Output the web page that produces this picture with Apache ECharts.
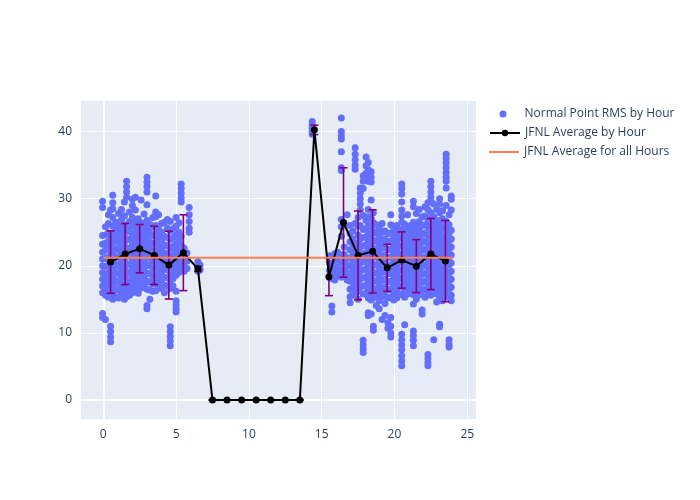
<!DOCTYPE html>
<html>
<head>
<meta charset="utf-8">
<script src="https://cdn.jsdelivr.net/npm/echarts@6/dist/echarts.min.js"></script>
<style>html,body{margin:0;padding:0;background:#fff}#c{width:700px;height:500px}</style>
</head>
<body>
<div id="c"></div>
<script>
// Normal point RMS, grouped in vertical streaks: [hour, [rms values]]
const normalPointStreaks = [
  [-0.05, [29.6, 28.7, 24.5, 23.2, 22.0, 21.0, 20.0, 19.0, 18.0, 17.0, 16.0, 12.9, 12.3]],
  [0.15, [25.8, 24.6, 23.4, 22.3, 21.1, 19.9, 18.6, 17.4, 16.2, 15.6, 12.0]],
  [0.35, [27.6, 26.3, 24.9, 23.6, 22.5, 21.3, 20.1, 18.9, 17.7, 16.5, 15.3]],
  [0.5, [28.3, 24.0, 22.8, 21.6, 20.4, 19.2, 18.0, 16.8, 15.6, 11.0, 10.2, 9.4, 8.7]],
  [0.65, [30.5, 29.4, 28.5, 27.2, 25.9, 24.7, 23.5, 22.2, 21.0, 19.7, 18.5, 17.3, 16.0, 15.0]],
  [0.85, [26.5, 25.2, 23.9, 22.6, 21.4, 20.2, 19.0, 17.8, 16.6, 15.4]],
  [1.05, [27.8, 26.0, 24.8, 23.6, 22.4, 21.2, 20.0, 18.8, 17.6, 16.4, 15.2]],
  [1.25, [28.4, 26.9, 25.5, 24.2, 23.0, 21.8, 20.6, 19.4, 18.2, 17.0, 15.8]],
  [1.45, [29.5, 27.4, 26.1, 24.8, 23.5, 22.2, 21.0, 19.8, 18.5, 17.3, 16.1, 15.0]],
  [1.6, [32.6, 31.8, 31.0, 30.2, 25.6, 24.0, 22.7, 21.5, 20.3, 19.1, 17.9, 16.6, 15.4]],
  [1.8, [28.0, 26.6, 25.1, 23.9, 22.6, 21.4, 20.2, 18.9, 17.7, 16.5, 15.6]],
  [2.0, [29.9, 29.0, 27.2, 25.9, 24.6, 23.3, 22.1, 20.8, 19.6, 18.3, 17.1, 16.0]],
  [2.2, [30.2, 28.3, 26.4, 25.0, 23.8, 22.6, 21.3, 20.1, 18.9, 17.6, 16.4]],
  [2.4, [27.0, 25.6, 24.3, 23.0, 21.8, 20.6, 19.4, 18.2, 17.0, 15.9]],
  [2.6, [29.8, 26.4, 25.1, 23.9, 22.7, 21.5, 20.3, 19.1, 17.9, 16.7]],
  [2.8, [27.7, 26.0, 24.6, 23.3, 22.0, 20.8, 19.6, 18.4, 17.2]],
  [3.0, [33.2, 32.5, 31.8, 31.0, 29.1, 26.8, 25.3, 24.0, 22.7, 21.4, 20.2, 18.9, 17.7, 16.5, 14.1, 13.6]],
  [3.2, [26.2, 24.9, 23.6, 22.4, 21.2, 20.0, 18.8, 17.6, 16.4, 15.0]],
  [3.4, [27.2, 25.8, 24.5, 23.2, 22.0, 20.8, 19.6, 18.4, 17.3, 16.2]],
  [3.6, [30.4, 28.0, 27.3, 26.0, 24.7, 23.4, 22.2, 21.0, 19.8, 18.6, 17.4, 16.3]],
  [3.8, [27.6, 25.4, 24.1, 22.9, 21.7, 20.5, 19.3, 18.1, 16.9]],
  [4.0, [26.3, 25.0, 23.7, 22.5, 21.3, 20.1, 18.9, 17.7, 16.6]],
  [4.2, [26.5, 24.4, 23.1, 21.9, 20.7, 19.5, 18.3, 17.1, 16.0]],
  [4.4, [26.9, 25.6, 24.2, 23.0, 21.8, 20.6, 19.4, 18.2, 17.0]],
  [4.6, [26.6, 25.2, 23.9, 22.6, 21.4, 20.2, 19.0, 17.8, 16.6, 10.9, 10.2, 9.5, 8.8, 8.1]],
  [4.8, [25.5, 24.2, 22.9, 21.7, 20.5, 19.3, 18.1, 17.0]],
  [5.0, [27.2, 25.9, 24.6, 23.3, 22.1, 20.9, 19.7, 18.6, 16.2, 14.8, 14.2, 13.6, 13.1]],
  [5.2, [26.4, 25.0, 23.7, 22.5, 21.3, 20.1, 19.0]],
  [5.35, [32.2, 31.5, 30.8, 30.1, 29.5, 24.4, 23.1, 21.9, 20.7, 19.5]],
  [5.55, [22.6, 21.4, 20.2, 19.2]],
  [5.75, [21.9, 20.7, 19.6]],
  [5.9, [28.7, 27.6, 26.6, 25.6, 25.0]],
  [6.5, [20.6, 19.8, 19.2]],
  [6.65, [20.1, 19.4]],
  [14.35, [41.5, 41.0, 40.5, 40.0, 39.6]],
  [15.55, [21.5, 20.4, 19.3, 18.2]],
  [15.7, [20.2, 19.1, 18.1, 14.0, 13.1]],
  [15.9, [21.8, 20.7, 19.6, 18.5, 17.9]],
  [16.1, [22.0, 20.9, 19.8, 18.8]],
  [16.35, [42.0, 40.0, 39.4, 38.9, 37.0, 34.6, 34.2, 26.9, 25.8, 24.4, 21.6, 20.5, 19.4, 18.3]],
  [16.55, [26.3, 22.8, 21.7, 20.6, 19.5, 18.5]],
  [16.75, [27.6, 21.1, 20.0, 19.0, 17.9]],
  [16.95, [26.0, 24.8, 23.6, 22.4, 21.2, 20.0, 18.8, 17.7, 16.5, 15.4, 14.5]],
  [17.15, [25.2, 24.0, 22.8, 21.6, 20.4, 19.2, 18.0, 16.8, 15.6]],
  [17.3, [37.6, 36.6, 35.8, 35.0, 34.4, 26.3, 23.2, 22.0, 20.8, 19.6, 18.4, 17.2, 16.0]],
  [17.5, [27.2, 25.9, 24.6, 23.4, 22.2, 21.0, 19.8, 18.6, 17.4, 16.2, 15.0]],
  [17.65, [31.6, 30.8, 30.0, 29.2, 28.3, 26.0, 24.0, 22.8, 21.6, 20.4, 19.2, 18.0, 16.8]],
  [17.85, [33.4, 32.6, 31.5, 27.5, 25.4, 24.2, 23.0, 21.8, 20.6, 19.4, 18.2, 17.0, 15.8, 8.9, 8.2, 7.6, 7.1]],
  [18.05, [36.2, 34.9, 33.8, 26.8, 25.5, 24.3, 23.1, 21.9, 20.7, 19.5, 18.3, 17.1, 15.9]],
  [18.2, [35.4, 34.3, 33.3, 32.6, 28.4, 27.3, 26.0, 24.8, 23.6, 22.4, 21.2, 20.0, 18.8, 17.6, 16.4, 15.2, 13.0, 12.6]],
  [18.4, [34.0, 33.2, 32.5, 29.8, 27.1, 25.8, 24.5, 23.3, 22.1, 20.9, 19.7, 18.5, 17.3, 16.1, 14.9, 12.8]],
  [18.55, [27.9, 26.4, 25.1, 23.8, 22.6, 21.4, 20.2, 19.0, 17.8, 16.6, 15.4, 11.0, 10.4]],
  [18.75, [26.1, 24.9, 23.7, 22.5, 21.3, 20.1, 18.9, 17.7, 16.5, 15.3, 14.1]],
  [18.95, [25.6, 24.4, 23.2, 22.0, 20.8, 19.6, 18.4, 17.2, 16.0, 14.8, 13.6]],
  [19.15, [26.3, 25.0, 23.8, 22.6, 21.4, 20.2, 19.0, 17.8, 16.6, 15.4, 12.0]],
  [19.35, [25.2, 24.0, 22.8, 21.6, 20.4, 19.2, 18.0, 16.8, 15.6, 14.4, 12.6]],
  [19.55, [24.8, 23.6, 22.4, 21.2, 20.0, 18.8, 17.6, 16.4, 15.2, 11.5, 10.7]],
  [19.75, [27.6, 26.1, 24.9, 23.7, 22.5, 21.3, 20.1, 18.9, 17.7, 16.5, 15.3, 12.3, 11.0, 10.0, 9.4]],
  [19.95, [25.6, 24.4, 23.2, 22.0, 20.8, 19.6, 18.4, 17.2, 16.0, 14.9]],
  [20.15, [26.0, 24.8, 23.6, 22.4, 21.2, 20.0, 18.8, 17.6, 16.4, 15.2]],
  [20.35, [25.3, 24.1, 22.9, 21.7, 20.5, 19.3, 18.1, 16.9, 15.7]],
  [20.5, [32.2, 31.5, 30.7, 29.5, 28.3, 27.4, 26.5, 25.4, 24.2, 23.0, 21.8, 20.6, 19.4, 18.2, 17.0, 15.8, 9.8, 9.0, 8.2, 7.5, 6.6, 5.8, 5.1]],
  [20.7, [26.2, 24.9, 23.7, 22.5, 21.3, 20.1, 18.9, 17.7, 16.5, 15.3, 11.2]],
  [20.9, [27.6, 25.4, 24.2, 23.0, 21.8, 20.6, 19.4, 18.2, 17.0, 15.8]],
  [21.1, [26.0, 24.8, 23.6, 22.4, 21.2, 20.0, 18.8, 17.6, 16.4]],
  [21.3, [29.6, 28.8, 26.5, 25.3, 24.1, 22.9, 21.7, 20.5, 19.3, 18.1, 16.9, 15.7, 14.3, 10.3, 9.6, 8.9, 8.1]],
  [21.5, [27.8, 25.8, 24.6, 23.4, 22.2, 21.0, 19.8, 18.6, 17.4, 16.2, 15.0]],
  [21.7, [28.4, 26.6, 25.3, 24.1, 22.9, 21.7, 20.5, 19.3, 18.1, 16.9, 15.7]],
  [21.9, [27.3, 26.0, 24.7, 23.5, 22.3, 21.1, 19.9, 18.7, 17.5, 16.3, 13.4, 12.8]],
  [22.1, [28.8, 27.4, 26.1, 24.9, 23.7, 22.5, 21.3, 20.1, 18.9, 17.7, 16.5, 15.3]],
  [22.3, [29.4, 28.4, 27.0, 25.8, 24.6, 23.4, 22.2, 21.0, 19.8, 18.6, 17.4, 16.2, 6.8, 6.2, 5.6, 5.1]],
  [22.5, [32.6, 31.8, 31.0, 30.3, 29.6, 27.9, 26.6, 25.3, 24.0, 22.8, 21.6, 20.4, 19.2, 18.0, 16.8, 15.6]],
  [22.7, [29.2, 27.3, 26.0, 24.7, 23.5, 22.3, 21.1, 19.9, 18.7, 17.5, 16.3, 9.0]],
  [22.9, [28.4, 26.8, 25.5, 24.2, 23.0, 21.8, 20.6, 19.4, 18.2, 17.0, 15.8, 14.6]],
  [23.1, [30.0, 29.2, 27.9, 26.2, 24.9, 23.7, 22.5, 21.3, 20.1, 18.9, 17.7, 16.5, 15.3, 11.3, 10.9]],
  [23.3, [28.2, 27.0, 25.7, 24.4, 23.2, 22.0, 20.8, 19.6, 18.4, 17.2, 16.0, 14.8]],
  [23.55, [36.6, 36.0, 35.3, 34.6, 33.9, 33.2, 32.6, 31.6, 29.0, 26.6, 25.3, 24.0, 22.8, 21.6, 20.4, 19.2, 18.0, 16.8, 15.6]],
  [23.75, [27.6, 26.1, 24.9, 23.7, 22.5, 21.3, 20.1, 18.9, 17.7, 16.5, 15.3, 9.0, 8.3, 7.9]],
  [23.9, [30.4, 29.9, 28.3, 25.3, 24.0, 22.8, 21.6, 20.4, 19.2, 18.0, 16.8, 15.6, 14.8]]
];

// Hourly averages and their standard deviations
const avgHours = [0.5, 1.5, 2.5, 3.5, 4.5, 5.5, 6.5, 7.5, 8.5, 9.5, 10.5, 11.5, 12.5, 13.5,
                  14.5, 15.5, 16.5, 17.5, 18.5, 19.5, 20.5, 21.5, 22.5, 23.5];
const avgRms = [20.55, 21.75, 22.55, 21.55, 20.1, 21.95, 19.55, 0, 0, 0, 0, 0, 0, 0,
                40.25, 18.35, 26.45, 21.55, 22.15, 19.7, 20.85, 19.95, 21.75, 20.7];
const avgStd = [4.65, 4.55, 3.6, 4.35, 5.05, 5.65, 0.4, 0, 0, 0, 0, 0, 0, 0,
                0.7, 2.8, 8.15, 6.6, 6.2, 3.5, 4.2, 3.95, 5.3, 6.05];

// Overall average across all hours
const overallHours = [0, 24];
const overallAvg = 21.2;

const xTicks = [0, 5, 10, 15, 20, 25];
const yTicks = [0, 10, 20, 30, 40];

const scatterData = [];
normalPointStreaks.forEach(([h, vals]) => vals.forEach(v => scatterData.push([h, v])));
const avgData = avgHours.map((h, i) => [h, avgRms[i]]);
const errData = avgHours.map((h, i) => [h, avgRms[i], avgStd[i]]);
const overallData = overallHours.map(h => [h, overallAvg]);

const FONT = '"Open Sans", "Noto Sans", sans-serif';
const TXT = '#2a3f5f';
const ERR = '#800080';

const chart = echarts.init(document.getElementById('c'), null, {renderer: 'canvas'});
chart.setOption({
  animation: false,
  backgroundColor: '#ffffff',
  textStyle: {fontFamily: FONT},
  grid: {left: 80, top: 100, width: 396, height: 319.5, show: true, backgroundColor: '#e5ecf6', borderWidth: 0},
  xAxis: {
    type: 'value', min: -1.6, max: 25.6,
    axisLine: {show: false}, axisTick: {show: false},
    axisLabel: {color: TXT, fontSize: 12, fontFamily: FONT, margin: 9, showMinLabel: false, showMaxLabel: false,
      formatter: v => xTicks.includes(v) ? String(v) : ''},
    splitLine: {show: true, lineStyle: {color: '#ffffff', width: 1}}
  },
  yAxis: {
    type: 'value', min: -2.9, max: 44.7,
    axisLine: {show: false}, axisTick: {show: false},
    axisLabel: {color: TXT, fontSize: 12, fontFamily: FONT, margin: 8, showMinLabel: false, showMaxLabel: false,
      formatter: v => yTicks.includes(v) ? String(v) : ''},
    splitLine: {show: true, lineStyle: {color: '#ffffff', width: 1}}
  },
  legend: [
    {data: ['Normal Point RMS by Hour'], orient: 'vertical', left: 499.5, top: 108, padding: 0,
     icon: 'circle', itemWidth: 7, itemHeight: 7,
     textStyle: {color: TXT, fontSize: 12, fontFamily: FONT, padding: [0, 0, 0, 13]}},
    {data: ['JFNL Average by Hour'], orient: 'vertical', left: 489, top: 127, padding: 0,
     itemWidth: 30, itemHeight: 8,
     textStyle: {color: TXT, fontSize: 12, fontFamily: FONT}},
    {data: [{name: 'JFNL Average for all Hours', icon: 'path://M0,0H30V2H0Z'}], orient: 'vertical', left: 489, top: 146, padding: 0,
     itemWidth: 30, itemHeight: 2,
     textStyle: {color: TXT, fontSize: 12, fontFamily: FONT}}
  ],
  series: [
    {
      name: 'zero', type: 'line', data: [], silent: true, z: 1,
      markLine: {silent: true, z: 1, symbol: 'none', label: {show: false},
        lineStyle: {color: '#ffffff', width: 2, type: 'solid'},
        data: [{xAxis: 0}, {yAxis: 0}]}
    },
    {
      name: 'Normal Point RMS by Hour', type: 'scatter', data: scatterData, z: 2,
      symbolSize: 7, itemStyle: {color: '#636efa', opacity: 1}
    },
    {
      name: 'errbars', type: 'custom', data: errData, z: 3, silent: true,
      renderItem: (params, api) => {
        const x = api.value(0), y = api.value(1), s = api.value(2);
        const top = api.coord([x, y + s]);
        const bot = api.coord([x, y - s]);
        const st = {stroke: ERR, lineWidth: 1.6};
        return {type: 'group', children: [
          {type: 'line', shape: {x1: top[0], y1: top[1], x2: bot[0], y2: bot[1]}, style: st},
          {type: 'line', shape: {x1: top[0] - 4, y1: top[1], x2: top[0] + 4, y2: top[1]}, style: st},
          {type: 'line', shape: {x1: bot[0] - 4, y1: bot[1], x2: bot[0] + 4, y2: bot[1]}, style: st}
        ]};
      }
    },
    {
      name: 'JFNL Average by Hour', type: 'line', data: avgData, z: 4,
      symbol: 'circle', symbolSize: 7, showSymbol: true,
      lineStyle: {color: '#000000', width: 2}, itemStyle: {color: '#000000'}
    },
    {
      name: 'JFNL Average for all Hours', type: 'line', data: overallData, z: 5,
      symbol: 'none', lineStyle: {color: '#ff7f50', width: 2}, itemStyle: {color: '#ff7f50'}
    }
  ]
});
</script>
</body>
</html>
